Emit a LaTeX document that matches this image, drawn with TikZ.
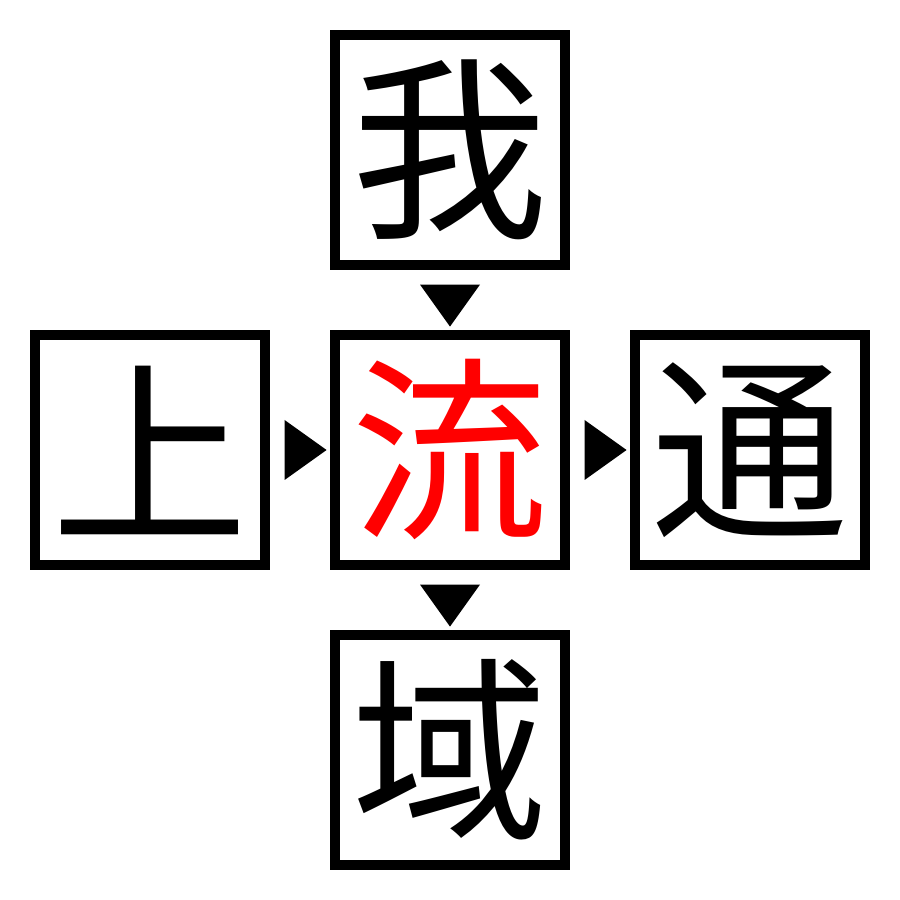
\documentclass[tikz,border=0pt]{standalone}
\usepackage{fontspec}
\newfontfamily\cjk{Noto Sans CJK JP}
\usetikzlibrary{shapes.geometric,positioning}
\tikzset{
    charbox/.style={draw, line width=1mm, minimum size=2.3cm, inner sep=0pt, font=\cjk\fontsize{56}{56}\selectfont},
    arrowtri/.style={isosceles triangle, isosceles triangle stretches, fill=black, inner sep=0pt, minimum height=4.2mm, minimum width=6mm}
}
\begin{document}
\begin{tikzpicture}
                \useasboundingbox (0, 0) rectangle (9, 9);
                \node[charbox, text=red] (liu) at (4.5, 4.5){流};
                \node[charbox, above=6mm of liu] (wo){我};
                \node[charbox, left=6mm of liu] (shang){上};
                \node[charbox, right=6mm of liu] (tong){通};
                \node[charbox, below=6mm of liu] (yu){域};
                \path (wo.south) -- (liu.north) node[midway, arrowtri, shape border rotate=270]{};
                \path (shang.east) -- (liu.west) node[midway, arrowtri]{};
                \path (liu.east) -- (tong.west) node[midway, arrowtri]{};
                \path (liu.south) -- (yu.north) node[midway, arrowtri, shape border rotate=270]{};
            \end{tikzpicture}
\end{document}
